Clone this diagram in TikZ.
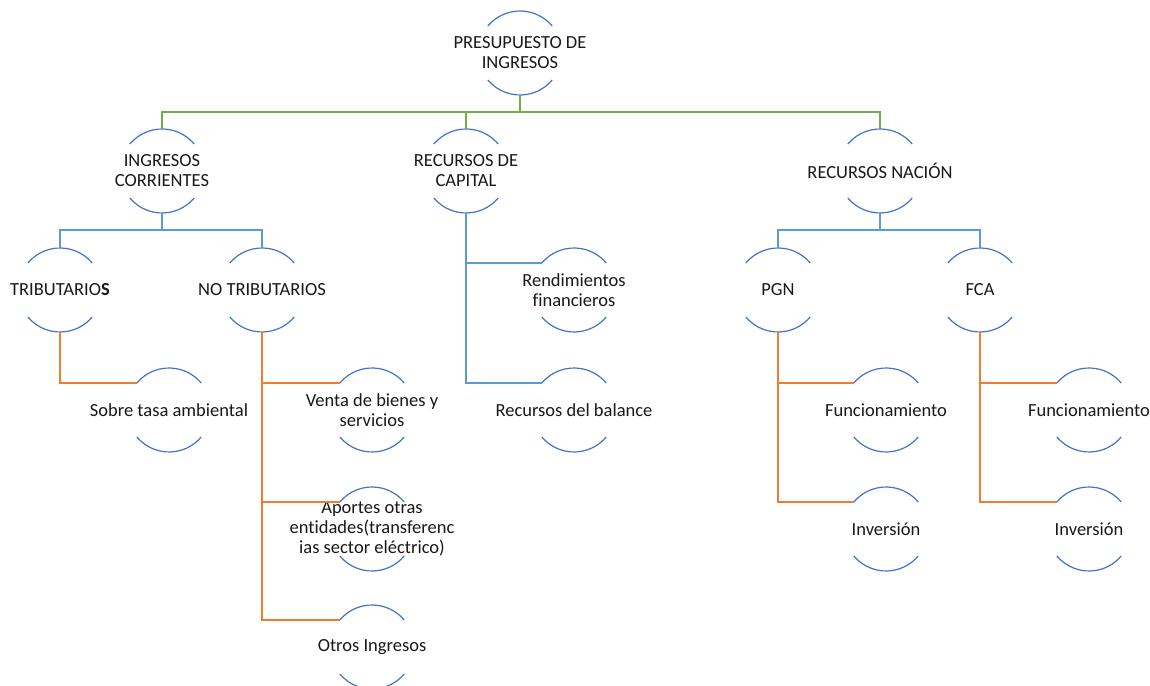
\documentclass[tikz,border=0pt]{standalone}
\usepackage{fontspec}
\setmainfont{Carlito}[Ligatures=NoCommon]
\usetikzlibrary{calc}
\definecolor{arcblue}{HTML}{4472C4}
\definecolor{connblue}{HTML}{5B9BD5}
\definecolor{conngreen}{HTML}{70AD47}
\definecolor{connorange}{HTML}{ED7D31}
\tikzset{
  lbl/.style={inner sep=0pt, align=center, text=black!90, font=\fontsize{18.5}{20}\selectfont},
  arcst/.style={draw=arcblue, line width=1.2pt},
  gconn/.style={draw=conngreen, line width=1.5pt},
  bconn/.style={draw=connblue, line width=1.5pt},
  oconn/.style={draw=connorange, line width=1.5pt},
}
\begin{document}
\begin{tikzpicture}[x=1pt,y=1pt]
\useasboundingbox[fill=white] (0,0) rectangle (1150,685);
% nodes
\node[lbl] (root) at (520,632) {PRESUPUESTO DE\\INGRESOS};
\node[lbl] (ic) at (162,514) {INGRESOS\\CORRIENTES};
\node[lbl] (rc) at (466,514) {RECURSOS DE\\CAPITAL};
\node[lbl] (rn) at (880,514) {RECURSOS NACIÓN};
\node[lbl] (trib) at (60,395) {TRIBUTARIO\textbf{S}};
\node[lbl] (notrib) at (262,395) {NO TRIBUTARIOS};
\node[lbl] (rend) at (574,395) {Rendimientos\\financieros};
\node[lbl] (pgn) at (778,395) {PGN};
\node[lbl] (fca) at (980,395) {FCA};
\node[lbl] (sobre) at (169,275) {Sobre tasa ambiental};
\node[lbl] (venta) at (372,275) {Venta de bienes y\\servicios};
\node[lbl] (balance) at (574,275) {Recursos del balance};
\node[lbl] (funcP) at (886,275) {Funcionamiento};
\node[lbl] (funcF) at (1089,275) {Funcionamiento};
\node[lbl] (aportes) at (372,156) {Aportes otras\\entidades(transferenc\\ias sector eléctrico)};
\node[lbl] (invP) at (886,156) {Inversión};
\node[lbl] (invF) at (1089,156) {Inversión};
\node[lbl] (otros) at (372,38) {Otros Ingresos};
% arcs and anchor coordinates
\foreach \n in {root,ic,rc,rn,trib,notrib,rend,pgn,fca,sobre,venta,balance,funcP,funcF,aportes,invP,invF,otros}{
  \coordinate (\n-t) at ($(\n.center)+(0,42pt)$);
  \coordinate (\n-b) at ($(\n.center)+(0,-42pt)$);
  \coordinate (\n-l) at ($(\n.center)+(140:42pt)$);
  \draw[arcst] (\n-l) arc[start angle=140,end angle=40,radius=42pt];
  \draw[arcst] ($(\n.center)+(220:42pt)$) arc[start angle=220,end angle=320,radius=42pt];
}
% green connectors
\coordinate (gbus) at ($(root-b)+(0,-17pt)$);
\draw[gconn] (root-b) -- (gbus);
\draw[gconn] (gbus) -| (ic-t);
\draw[gconn] (gbus) -| (rc-t);
\draw[gconn] (gbus) -| (rn-t);
% blue connectors
\draw[bconn] (ic-b) -- ++(0,-17) -| (trib-t);
\draw[bconn] (ic-b) -- ++(0,-17) -| (notrib-t);
\draw[bconn] (rn-b) -- ++(0,-17) -| (pgn-t);
\draw[bconn] (rn-b) -- ++(0,-17) -| (fca-t);
\draw[bconn] (rc-b) |- (rend-l);
\draw[bconn] (rc-b) |- (balance-l);
% orange connectors
\draw[oconn] (trib-b) |- (sobre-l);
\draw[oconn] (notrib-b) |- (venta-l);
\draw[oconn] (notrib-b) |- (aportes-l);
\draw[oconn] (notrib-b) |- (otros-l);
\draw[oconn] (pgn-b) |- (funcP-l);
\draw[oconn] (pgn-b) |- (invP-l);
\draw[oconn] (fca-b) |- (funcF-l);
\draw[oconn] (fca-b) |- (invF-l);
\end{tikzpicture}
\end{document}
